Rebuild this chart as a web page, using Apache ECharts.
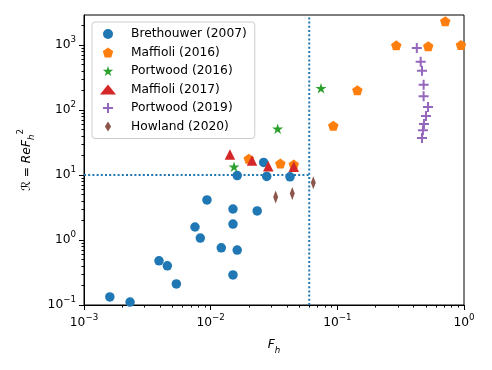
<!DOCTYPE html>
<html><head><meta charset="utf-8">
<script src="https://cdn.jsdelivr.net/npm/echarts@6/dist/echarts.min.js"></script>
<style>html,body{margin:0;padding:0;background:#fff}#c{width:492px;height:370px}</style>
</head><body><div id="c"></div><script>
// ---- data ----
const brethouwerFh = [0.0016,0.00231,0.00391,0.00455,0.00536,0.00752,0.00828,0.00935,0.01213,0.0150,0.0150,0.0150,0.0162,0.0162,0.0233,0.0262,0.0277,0.0423];
const brethouwerR  = [0.133,0.111,0.478,0.40,0.211,1.585,1.07,4.14,0.758,3.0,1.76,0.29,0.70,9.8,2.8,15.6,9.5,9.4];
const maffioli16Fh = [0.0200,0.0355,0.0453,0.0929,0.1439,0.292,0.522,0.711,0.946];
const maffioli16R  = [17.8,15.1,14.5,57.5,202,990,960,2325,1000];
const portwood16Fh = [0.0153,0.0338,0.0743];
const portwood16R  = [13.4,51.6,217];
const maffioli17Fh = [0.0142,0.0212,0.0285,0.0453];
const maffioli17R  = [20.7,16.7,13.7,13.4];
const portwood19Fh = [0.424,0.455,0.466,0.480,0.480,0.520,0.501,0.483,0.474,0.466];
const portwood19R  = [900,552,401,244,163,111,81,61,49,37];
const howlandFh = [0.0326,0.0441,0.0646];
const howlandR  = [4.6,5.2,7.6];
const thresholdFh = 0.06;
const thresholdR = 10;
const xMin = 0.001, xMax = 1, yMin = 0.1, yMax = 2900;
const xMajorTicks = [0.001,0.01,0.1,1];
const yMajorTicks = [0.1,1,10,100,1000];
const seriesNames = ['Brethouwer (2007)','Maffioli (2016)','Portwood (2016)','Maffioli (2017)','Portwood (2019)','Howland (2020)'];
const colors = ['#1f77b4','#ff7f0e','#2ca02c','#d62728','#9467bd','#8c564b'];

function minorTicks(lo, hi){
  const out = [];
  for (let e = Math.floor(Math.log10(lo)); e <= Math.ceil(Math.log10(hi)); e++) {
    for (let m = 2; m <= 9; m++) { const v = m * Math.pow(10, e); if (v > lo && v < hi) out.push(v); }
  }
  return out;
}
function zip(a,b){ return a.map((v,i)=>[v,b[i]]); }
const FONT = 'DejaVu Sans';
const rich = {
  m: {fontSize: 12.25, lineHeight: 20, fontFamily: FONT, color: '#000'},
  s: {fontSize: 8.7, lineHeight: 10, verticalAlign: 'top', fontFamily: FONT, color: '#000'}
};
function powLabel(v){
  const e = Math.round(Math.log10(v));
  return '{m|10}{s|' + (e < 0 ? '\u2212' + (-e) : e) + '}';
}
const P_PENT = 'path://M0,-50L47.55,-15.45L29.39,40.45L-29.39,40.45L-47.55,-15.45Z';
const P_STAR = 'path://M0,-50L11.23,-15.45L47.55,-15.45L18.16,5.9L29.39,40.45L0,19.1L-29.39,40.45L-18.16,5.9L-47.55,-15.45L-11.23,-15.45Z';
const P_PLUS = 'path://M-10,-50L10,-50L10,-10L50,-10L50,10L10,10L10,50L-10,50L-10,10L-50,10L-50,-10L-10,-10Z';
const P_DIAM = 'path://M0,-50L31,0L0,50L-31,0Z';

const nameRich = {
  c: {fontSize: 12.25, lineHeight: 20, fontFamily: FONT, fontStyle: 'italic', color: '#000'},
  n: {fontSize: 12.25, lineHeight: 20, fontFamily: FONT, color: '#000'},
  i: {fontSize: 12.25, lineHeight: 20, fontFamily: FONT, fontStyle: 'italic', color: '#000'},
  sub: {fontSize: 8.7, lineHeight: 10, verticalAlign: 'bottom', fontFamily: FONT, fontStyle: 'italic', color: '#000'},
  sup: {fontSize: 8.7, lineHeight: 10, verticalAlign: 'top', fontFamily: FONT, color: '#000'}
};

function scatter(i, fh, r, symbol, size){
  return {
    name: seriesNames[i], type: 'scatter', data: zip(fh, r),
    symbol: symbol, symbolSize: size, symbolKeepAspect: true,
    itemStyle: {color: colors[i], opacity: 1}, z: 3 + i * 0.01, clip: false
  };
}

const chart = echarts.init(document.getElementById('c'), null, {renderer: 'canvas'});
chart.setOption({
  animation: false,
  backgroundColor: '#fff',
  grid: {left: 84, right: 28, top: 15, bottom: 65, show: true, borderColor: '#000', borderWidth: 1, backgroundColor: 'transparent'},
  legend: {
    orient: 'vertical', left: 92, top: 22, padding: [6, 8, 6, 8],
    backgroundColor: 'rgba(255,255,255,0.8)', borderColor: '#cccccc', borderWidth: 1, borderRadius: 3,
    itemWidth: 16, itemHeight: 10, itemGap: 6.5,
    textStyle: {fontSize: 12.25, fontFamily: FONT, color: '#000', padding: [0, 0, 0, 10]},
    data: seriesNames
  },
  xAxis: [{
    type: 'log', min: xMin, max: xMax, logBase: 10,
    name: '{i|F}{sub|h}', nameLocation: 'middle', nameGap: 30,
    nameTextStyle: {rich: nameRich},
    axisLine: {lineStyle: {color: '#000', width: 1}},
    axisTick: {length: 5, lineStyle: {color: '#000'}, customValues: xMajorTicks},
    axisLabel: {customValues: xMajorTicks, formatter: powLabel, rich: rich, margin: 8},
    splitLine: {show: false}
  }, {
    type: 'log', min: xMin, max: xMax, logBase: 10, position: 'bottom', offset: 0,
    axisLine: {show: false}, axisLabel: {show: false}, splitLine: {show: false},
    axisTick: {length: 2.5, lineStyle: {color: '#000'}, customValues: minorTicks(xMin, xMax)}
  }],
  yAxis: [{
    type: 'log', min: yMin, max: yMax, logBase: 10,
    name: '{c|\u211B}{n| = }{i|ReF}{sub|h}{sup|2}', nameLocation: 'middle', nameGap: 43, nameRotate: 90,
    nameTextStyle: {rich: nameRich},
    axisLine: {lineStyle: {color: '#000', width: 1}},
    axisTick: {length: 5, lineStyle: {color: '#000'}, customValues: yMajorTicks},
    axisLabel: {customValues: yMajorTicks, formatter: powLabel, rich: rich, margin: 8},
    splitLine: {show: false}
  }, {
    type: 'log', min: yMin, max: yMax, logBase: 10, position: 'left', offset: 0,
    axisLine: {show: false}, axisLabel: {show: false}, splitLine: {show: false},
    axisTick: {length: 2.5, lineStyle: {color: '#000'}, customValues: minorTicks(yMin, yMax)}
  }],
  series: [
    {type: 'line', data: [[xMin, thresholdR], [thresholdFh, thresholdR]], symbol: 'none', silent: true, z: 1,
     lineStyle: {color: colors[0], width: 2, type: [2, 2.2]}},
    {type: 'line', data: [[thresholdFh, yMin], [thresholdFh, yMax]], symbol: 'none', silent: true, z: 1,
     lineStyle: {color: colors[0], width: 2, type: [2, 2.2]}},
    scatter(0, brethouwerFh, brethouwerR, 'circle', 9.5),
    scatter(1, maffioli16Fh, maffioli16R, P_PENT, 10.5),
    scatter(2, portwood16Fh, portwood16R, P_STAR, 11),
    scatter(3, maffioli17Fh, maffioli17R, 'triangle', 10.5),
    scatter(4, portwood19Fh, portwood19R, P_PLUS, 10),
    scatter(5, howlandFh, howlandR, P_DIAM, [8, 13])
  ]
});
</script></body></html>
